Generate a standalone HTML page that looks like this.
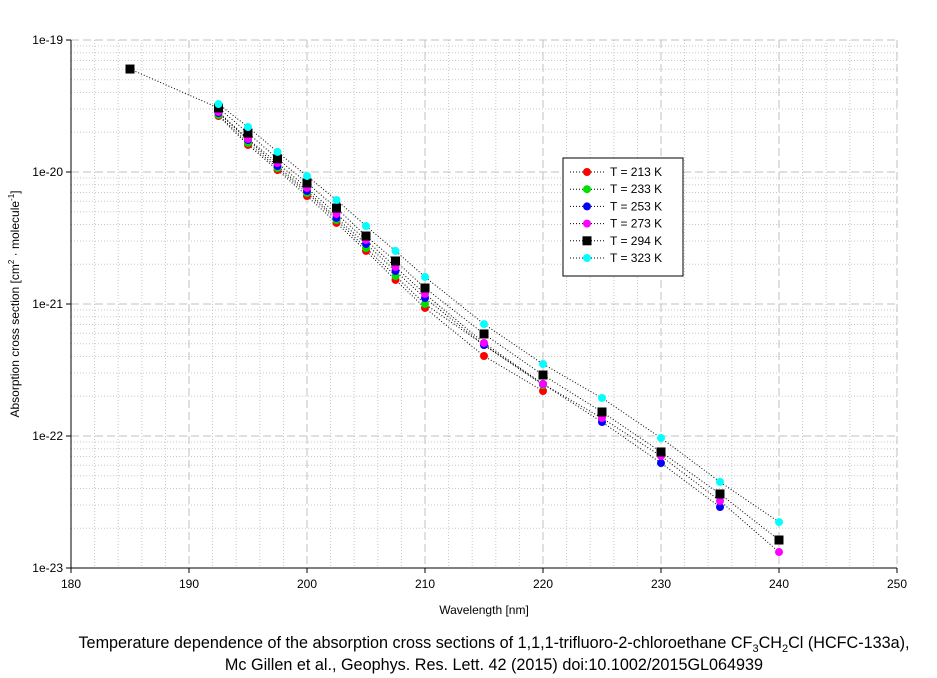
<!DOCTYPE html>
<html><head><meta charset="utf-8"><style>
body{margin:0;background:#fff;}
svg{display:block;font-family:"Liberation Sans",Arial,sans-serif;}
</style></head><body>
<svg id="chart" width="937" height="678" xmlns="http://www.w3.org/2000/svg">
<g id="grid"></g>
<g id="series"></g>
<g id="axes"></g>
<text x="484" y="614" font-size="12" text-anchor="middle">Wavelength [nm]</text>
<text transform="translate(19,304) rotate(-90)" font-size="12" text-anchor="middle">Absorption cross section [cm<tspan font-size="8" dy="-5">2</tspan><tspan dy="5"> · molecule</tspan><tspan font-size="8" dy="-5">-1</tspan><tspan dy="5">]</tspan></text>
<text x="494" y="648" font-size="16.2" text-anchor="middle">Temperature dependence of the absorption cross sections of 1,1,1-trifluoro-2-chloroethane CF<tspan font-size="11" dy="4">3</tspan><tspan dy="-4">CH</tspan><tspan font-size="11" dy="4">2</tspan><tspan dy="-4">Cl (HCFC-133a),</tspan></text>
<text x="494" y="670" font-size="16.2" text-anchor="middle">Mc Gillen et al., Geophys. Res. Lett. 42 (2015) doi:10.1002/2015GL064939</text>
<g id="legend"></g>
</svg>
<script>
const wavelengths=[185,192.5,195,197.5,200,202.5,205,207.5,210,215,220,225,230,235,240];
const log10Sigma213=[null,-19.576,-19.795,-19.985,-20.182,-20.386,-20.598,-20.818,-21.03,-21.394,-21.659,null,null,null,null];
const log10Sigma233=[null,-19.568,-19.78,-19.97,-20.159,-20.364,-20.576,-20.788,-21.0,-21.311,-21.614,null,null,null,null];
const log10Sigma253=[null,-19.553,-19.758,-19.955,-20.144,-20.348,-20.545,-20.75,-20.955,-21.311,-21.606,-21.894,-22.205,-22.538,null];
const log10Sigma273=[null,-19.545,-19.75,-19.932,-20.121,-20.318,-20.515,-20.72,-20.924,-21.295,-21.606,-21.864,-22.152,-22.492,-22.879];
const log10Sigma294=[-19.22,-19.515,-19.705,-19.90,-20.083,-20.273,-20.485,-20.674,-20.879,-21.227,-21.538,-21.818,-22.121,-22.439,-22.788];
const log10Sigma323=[null,-19.485,-19.659,-19.848,-20.03,-20.212,-20.409,-20.598,-20.795,-21.152,-21.455,-21.712,-22.015,-22.348,-22.652];
const seriesLabels=["T = 213 K","T = 233 K","T = 253 K","T = 273 K","T = 294 K","T = 323 K"];
const xTicks=[180,190,200,210,220,230,240,250];
const yTickExps=[-19,-20,-21,-22,-23];

const NS="http://www.w3.org/2000/svg";
const L=71,R=897,T=40,B=568;
const xs=w=>L+(w-180)/70*(R-L);
const ys=lg=>T+(-19-lg)*(B-T)/4;
function mk(tag,attrs,parent){const e=document.createElementNS(NS,tag);for(const k in attrs)e.setAttribute(k,attrs[k]);parent.appendChild(e);return e;}
const grid=document.getElementById('grid'),axes=document.getElementById('axes'),sg=document.getElementById('series'),lg=document.getElementById('legend');
for(let w=182;w<250;w+=2){if(w%10===0)continue;const l=mk('line',{x1:xs(w),x2:xs(w),y1:T,y2:B,stroke:'#c8c8c8','stroke-dasharray':'1,2'},grid);

}
for(let e=-23;e<-19;e++){for(let m=2;m<10;m++){const y=ys(e+Math.log10(m));const l=mk('line',{x1:L,x2:R,y1:y,y2:y,stroke:'#c8c8c8','stroke-dasharray':'1,2'},grid);

}}
xTicks.forEach(w=>{const x=xs(w);if(w>180){const l=mk('line',{x1:x,x2:x,y1:T,y2:B,stroke:'#c0c0c0','stroke-dasharray':'8,4'},grid);

}
const tk=mk('line',{x1:x,x2:x,y1:B,y2:B+5,stroke:'#000'},axes);


const t=mk('text',{x:x,y:B+20,'font-size':12,'text-anchor':'middle'},axes);t.textContent=w;

});
yTickExps.forEach(e=>{const y=ys(e);if(e>-23){const l=mk('line',{x1:L,x2:R,y1:y,y2:y,stroke:'#c0c0c0','stroke-dasharray':'8,4'},grid);

}
const tk=mk('line',{x1:L-5,x2:L,y1:y,y2:y,stroke:'#000'},axes);


const t=mk('text',{x:L-8,y:y+4,'font-size':12,'text-anchor':'end'},axes);t.textContent='1e'+e;

});
const ax1=mk('line',{x1:L,x2:L,y1:T,y2:B,stroke:'#000'},axes);


const ax2=mk('line',{x1:L,x2:R,y1:B,y2:B,stroke:'#000'},axes);



const all=[log10Sigma213,log10Sigma233,log10Sigma253,log10Sigma273,log10Sigma294,log10Sigma323];
const colors=['#ff0000','#00e000','#0000ff','#ff00ff','#000000','#00ffff'];
function marker(par,x,y,i){let m;if(i===4){m=mk('rect',{x:x-4.5,y:y-4.5,width:9,height:9,fill:'#000'},par);}else{m=mk('circle',{cx:x,cy:y,r:4,fill:colors[i]},par);}return m;}
all.forEach((arr,i)=>{const pts=[];arr.forEach((v,j)=>{if(v!==null)pts.push([xs(wavelengths[j]),ys(v)]);});
const pl=mk('polyline',{points:pts.map(p=>p.join(',')).join(' '),fill:'none',stroke:'#000','stroke-width':1,'stroke-dasharray':'1,2'},sg);

});
all.forEach((arr,i)=>{arr.forEach((v,j)=>{if(v===null)return;const m=marker(sg,xs(wavelengths[j]),ys(v),i);

});});
const box=mk('rect',{x:563,y:158,width:120,height:118,fill:'#fff',stroke:'#000'},lg);


seriesLabels.forEach((s,i)=>{const y=172+i*17.2;
const ln=mk('line',{x1:570,x2:604,y1:y,y2:y,stroke:'#000','stroke-dasharray':'1,2'},lg);


const m=marker(lg,587,y,i);


const t=mk('text',{x:610,y:y+4,'font-size':12},lg);t.textContent=s;

});
</script>
</body></html>
